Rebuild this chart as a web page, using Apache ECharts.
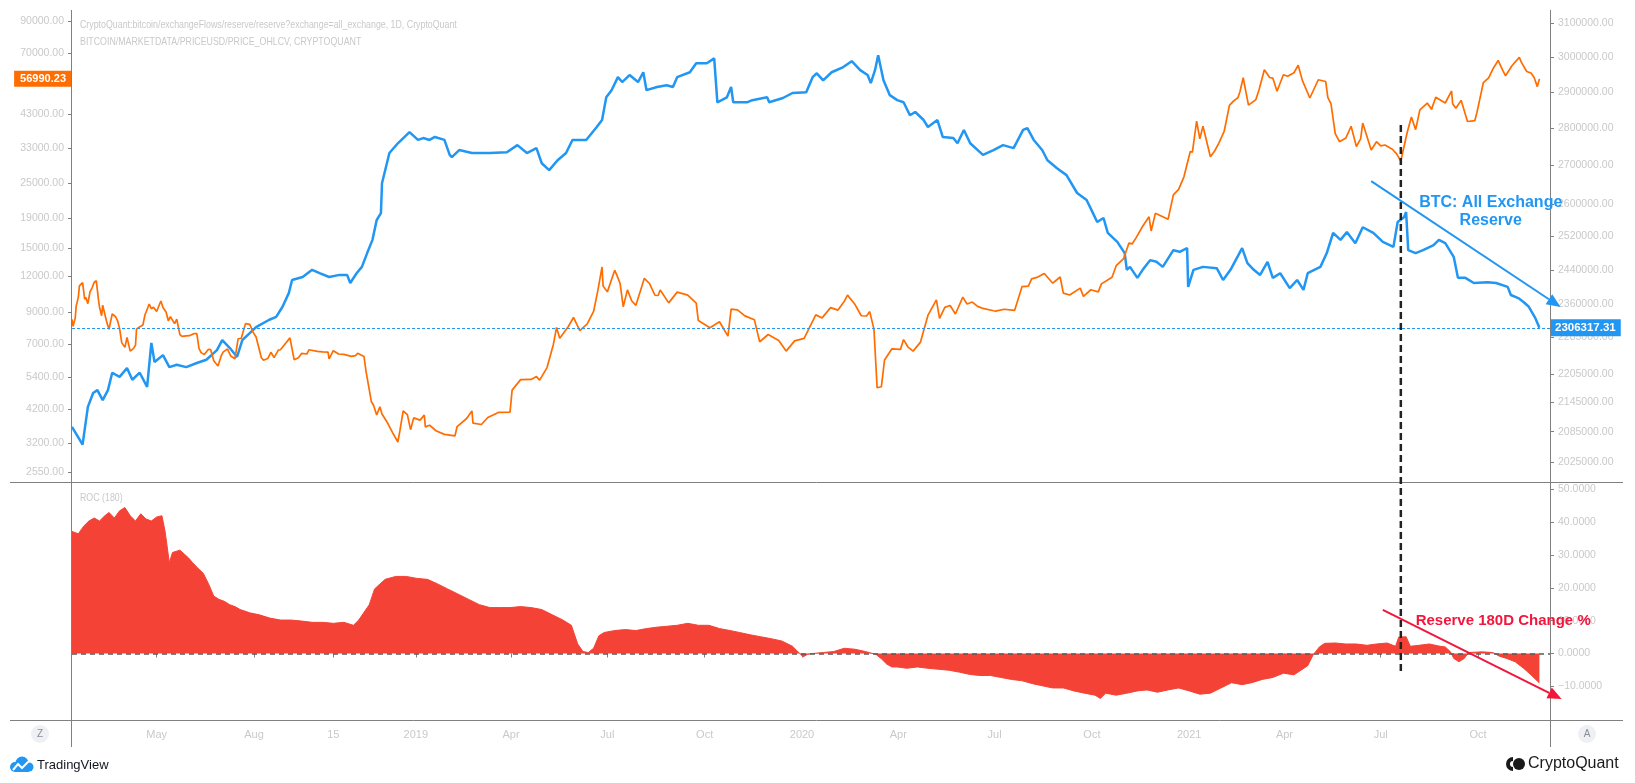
<!DOCTYPE html>
<html>
<head>
<meta charset="utf-8">
<title>BTC: All Exchange Reserve vs Price</title>
<script src="https://cdn.jsdelivr.net/npm/echarts@6.0.0/dist/echarts.min.js"></script>
<style>
  html, body { margin: 0; padding: 0; background: #fff; }
  #chart { width: 1635px; height: 783px; }
</style>
</head>
<body>
<div id="chart"></div>
<script>
// BTC price, USD daily close (left log axis)
const btcPrice = [
  ['2018-02-10', 8530], ['2018-02-11', 8080], ['2018-02-13', 8600], ['2018-02-14', 9490],
  ['2018-02-16', 10170], ['2018-02-17', 11110], ['2018-02-20', 11400], ['2018-02-22', 10000],
  ['2018-02-23', 10160], ['2018-02-25', 9660], ['2018-02-27', 10590], ['2018-03-01', 10950],
  ['2018-03-03', 11440], ['2018-03-05', 11570], ['2018-03-07', 9980], ['2018-03-08', 9400],
  ['2018-03-10', 8780], ['2018-03-11', 9550], ['2018-03-12', 9200], ['2018-03-15', 8300],
  ['2018-03-17', 7890], ['2018-03-18', 8220], ['2018-03-20', 8900], ['2018-03-23', 8730],
  ['2018-03-25', 8450], ['2018-03-27', 7930], ['2018-03-29', 7100], ['2018-04-01', 6840],
  ['2018-04-03', 7400], ['2018-04-06', 6640], ['2018-04-09', 6770], ['2018-04-11', 6950],
  ['2018-04-12', 7900], ['2018-04-14', 8000], ['2018-04-18', 8160], ['2018-04-20', 8850],
  ['2018-04-24', 9630], ['2018-04-26', 9280], ['2018-04-28', 9390], ['2018-05-01', 9080],
  ['2018-05-05', 9860], ['2018-05-07', 9370], ['2018-05-10', 9020], ['2018-05-12', 8440],
  ['2018-05-14', 8710], ['2018-05-18', 8250], ['2018-05-20', 8540], ['2018-05-23', 7560],
  ['2018-05-25', 7460], ['2018-05-29', 7490], ['2018-06-01', 7500], ['2018-06-05', 7620],
  ['2018-06-08', 7620], ['2018-06-10', 6780], ['2018-06-12', 6560], ['2018-06-15', 6460],
  ['2018-06-19', 6740], ['2018-06-21', 6720], ['2018-06-24', 6150], ['2018-06-28', 5900],
  ['2018-07-01', 6390], ['2018-07-03', 6600], ['2018-07-07', 6750], ['2018-07-10', 6390],
  ['2018-07-14', 6250], ['2018-07-17', 7320], ['2018-07-20', 7350], ['2018-07-24', 8250],
  ['2018-07-28', 8200], ['2018-07-31', 7730], ['2018-08-03', 7420], ['2018-08-08', 6300],
  ['2018-08-10', 6180], ['2018-08-14', 6260], ['2018-08-17', 6580], ['2018-08-20', 6310],
  ['2018-08-24', 6690], ['2018-08-26', 6710], ['2018-08-30', 7000], ['2018-09-04', 7370],
  ['2018-09-08', 6200], ['2018-09-12', 6300], ['2018-09-15', 6520], ['2018-09-20', 6490],
  ['2018-09-22', 6710], ['2018-09-30', 6630], ['2018-10-05', 6600], ['2018-10-10', 6590],
  ['2018-10-11', 6250], ['2018-10-15', 6660], ['2018-10-20', 6490], ['2018-10-25', 6470],
  ['2018-11-01', 6370], ['2018-11-05', 6410], ['2018-11-07', 6530], ['2018-11-13', 6360],
  ['2018-11-15', 5640], ['2018-11-20', 4450], ['2018-11-22', 4330], ['2018-11-25', 4010],
  ['2018-11-28', 4280], ['2018-11-30', 4040], ['2018-12-05', 3780], ['2018-12-10', 3490],
  ['2018-12-15', 3240], ['2018-12-17', 3550], ['2018-12-20', 4140], ['2018-12-24', 4020],
  ['2018-12-27', 3570], ['2018-12-30', 3920], ['2019-01-05', 3850], ['2019-01-09', 4010],
  ['2019-01-10', 3650], ['2019-01-14', 3700], ['2019-01-20', 3540], ['2019-01-28', 3440],
  ['2019-02-07', 3400], ['2019-02-09', 3660], ['2019-02-18', 3900], ['2019-02-23', 4140],
  ['2019-02-24', 3760], ['2019-03-04', 3720], ['2019-03-10', 3930], ['2019-03-20', 4090],
  ['2019-03-31', 4100], ['2019-04-02', 4880], ['2019-04-10', 5300], ['2019-04-20', 5310],
  ['2019-04-25', 5430], ['2019-04-28', 5280], ['2019-05-05', 5830], ['2019-05-11', 7000],
  ['2019-05-14', 8000], ['2019-05-17', 7350], ['2019-05-25', 8050], ['2019-05-30', 8660],
  ['2019-06-05', 7800], ['2019-06-12', 8230], ['2019-06-18', 9080], ['2019-06-22', 10700],
  ['2019-06-26', 12900], ['2019-06-27', 11100], ['2019-07-01', 10600], ['2019-07-08', 12570],
  ['2019-07-10', 12100], ['2019-07-13', 11350], ['2019-07-16', 9430], ['2019-07-20', 10770],
  ['2019-07-24', 9880], ['2019-07-28', 9530], ['2019-08-05', 11800], ['2019-08-10', 11300],
  ['2019-08-15', 10320], ['2019-08-18', 10300], ['2019-08-20', 10760], ['2019-08-28', 9720],
  ['2019-09-05', 10580], ['2019-09-15', 10330], ['2019-09-23', 9700], ['2019-09-25', 8450],
  ['2019-10-06', 7990], ['2019-10-15', 8370], ['2019-10-23', 7470], ['2019-10-26', 9250],
  ['2019-11-01', 9200], ['2019-11-08', 8770], ['2019-11-17', 8500], ['2019-11-22', 7150],
  ['2019-11-30', 7570], ['2019-12-10', 7220], ['2019-12-17', 6640], ['2019-12-25', 7200],
  ['2020-01-03', 7340], ['2020-01-14', 8840], ['2020-01-20', 8630], ['2020-01-28', 9360],
  ['2020-02-04', 9180], ['2020-02-10', 9850], ['2020-02-13', 10330], ['2020-02-20', 9610],
  ['2020-02-26', 8780], ['2020-03-02', 8760], ['2020-03-05', 9070], ['2020-03-09', 7900],
  ['2020-03-12', 4970], ['2020-03-16', 5010], ['2020-03-19', 6190], ['2020-03-26', 6760],
  ['2020-04-03', 6730], ['2020-04-06', 7270], ['2020-04-10', 6870], ['2020-04-15', 6640],
  ['2020-04-22', 7130], ['2020-04-29', 8800], ['2020-05-07', 9950], ['2020-05-10', 8600],
  ['2020-05-15', 9380], ['2020-05-20', 9520], ['2020-05-25', 8900], ['2020-06-01', 10170],
  ['2020-06-05', 9630], ['2020-06-10', 9780], ['2020-06-15', 9450], ['2020-06-20', 9300],
  ['2020-06-30', 9130], ['2020-07-02', 9100], ['2020-07-10', 9240], ['2020-07-20', 9160],
  ['2020-07-27', 11050], ['2020-08-02', 11100], ['2020-08-05', 11750], ['2020-08-10', 11880],
  ['2020-08-17', 12250], ['2020-08-25', 11350], ['2020-09-01', 11920], ['2020-09-04', 10500],
  ['2020-09-10', 10340], ['2020-09-20', 10920], ['2020-09-23', 10230], ['2020-09-30', 10780],
  ['2020-10-07', 10600], ['2020-10-10', 11290], ['2020-10-20', 11900], ['2020-10-24', 13030],
  ['2020-10-31', 13780], ['2020-11-05', 15600], ['2020-11-08', 15480], ['2020-11-12', 16300],
  ['2020-11-18', 17800], ['2020-11-24', 19170], ['2020-11-26', 17150], ['2020-11-30', 19710],
  ['2020-12-07', 19190], ['2020-12-12', 18800], ['2020-12-17', 22800], ['2020-12-22', 23800],
  ['2020-12-27', 26300], ['2021-01-02', 32100], ['2021-01-04', 31970], ['2021-01-08', 40800],
  ['2021-01-11', 35500], ['2021-01-14', 39200], ['2021-01-21', 30800], ['2021-01-25', 32250],
  ['2021-01-29', 34300], ['2021-02-03', 37620], ['2021-02-08', 46200], ['2021-02-12', 47900],
  ['2021-02-16', 49100], ['2021-02-18', 51600], ['2021-02-21', 57500], ['2021-02-26', 46300],
  ['2021-03-05', 48400], ['2021-03-08', 52300], ['2021-03-13', 61200], ['2021-03-18', 57600],
  ['2021-03-21', 57350], ['2021-03-25', 51700], ['2021-03-31', 58900], ['2021-04-04', 58200],
  ['2021-04-10', 59800], ['2021-04-14', 63500], ['2021-04-18', 56200], ['2021-04-25', 49000],
  ['2021-05-03', 56600], ['2021-05-10', 55800], ['2021-05-12', 49200], ['2021-05-15', 46760],
  ['2021-05-19', 37000], ['2021-05-23', 34700], ['2021-05-29', 35700], ['2021-06-03', 39200],
  ['2021-06-08', 33400], ['2021-06-12', 35480], ['2021-06-14', 40200], ['2021-06-22', 32500],
  ['2021-06-27', 34700], ['2021-07-01', 33570], ['2021-07-05', 33800], ['2021-07-12', 32700],
  ['2021-07-16', 31530], ['2021-07-20', 29800], ['2021-07-26', 37300], ['2021-07-30', 42200],
  ['2021-08-03', 38150], ['2021-08-07', 44600], ['2021-08-14', 47100], ['2021-08-18', 44800],
  ['2021-08-22', 49300], ['2021-08-31', 47100], ['2021-09-06', 51800], ['2021-09-07', 46800],
  ['2021-09-10', 45160], ['2021-09-15', 48100], ['2021-09-21', 40700], ['2021-09-28', 41000],
  ['2021-09-30', 43790], ['2021-10-06', 55300], ['2021-10-11', 57400], ['2021-10-15', 61600],
  ['2021-10-20', 65900], ['2021-10-24', 61300], ['2021-10-27', 58400], ['2021-11-02', 63200],
  ['2021-11-09', 67500], ['2021-11-11', 64900], ['2021-11-16', 60400], ['2021-11-20', 59700],
  ['2021-11-23', 57570], ['2021-11-26', 53600], ['2021-11-28', 56990.23]
];

// all exchange reserve, BTC (right log axis)
const exchangeReserve = [
  ['2018-02-10', 2095000], ['2018-02-20', 2059000], ['2018-02-25', 2136000], ['2018-03-02', 2165000],
  ['2018-03-06', 2171000], ['2018-03-11', 2150000], ['2018-03-16', 2171000], ['2018-03-20', 2208000],
  ['2018-03-27', 2199000], ['2018-04-03', 2218000], ['2018-04-08', 2193000], ['2018-04-15', 2208000],
  ['2018-04-22', 2178000], ['2018-04-26', 2273000], ['2018-04-29', 2231000], ['2018-05-07', 2246000],
  ['2018-05-13', 2220000], ['2018-05-20', 2225000], ['2018-05-29', 2220000], ['2018-06-08', 2229000],
  ['2018-06-17', 2236000], ['2018-06-27', 2257000], ['2018-07-02', 2279000], ['2018-07-09', 2262000],
  ['2018-07-16', 2242000], ['2018-07-21', 2279000], ['2018-08-03', 2308000], ['2018-08-15', 2324000],
  ['2018-08-22', 2331000], ['2018-08-28', 2354000], ['2018-09-03', 2386000], ['2018-09-06', 2416000],
  ['2018-09-16', 2423000], ['2018-09-25', 2440000], ['2018-10-02', 2432000], ['2018-10-11', 2423000],
  ['2018-10-21', 2428000], ['2018-10-28', 2428000], ['2018-10-31', 2409000], ['2018-11-06', 2432000],
  ['2018-11-11', 2447000], ['2018-11-16', 2480000], ['2018-11-21', 2512000], ['2018-11-25', 2561000],
  ['2018-11-29', 2578000], ['2018-11-30', 2654000], ['2018-12-07', 2733000], ['2018-12-15', 2759000],
  ['2018-12-26', 2789000], ['2019-01-03', 2768000], ['2019-01-08', 2773000], ['2019-01-14', 2768000],
  ['2019-01-19', 2776000], ['2019-01-28', 2768000], ['2019-02-02', 2728000], ['2019-02-04', 2722000],
  ['2019-02-11', 2741000], ['2019-02-23', 2733000], ['2019-03-12', 2733000], ['2019-03-28', 2735000],
  ['2019-04-07', 2754000], ['2019-04-16', 2733000], ['2019-04-25', 2746000], ['2019-04-30', 2706000],
  ['2019-05-07', 2688000], ['2019-05-15', 2714000], ['2019-05-23', 2733000], ['2019-05-29', 2768000],
  ['2019-06-11', 2768000], ['2019-06-21', 2803000], ['2019-06-26', 2822000], ['2019-06-30', 2885000],
  ['2019-07-05', 2905000], ['2019-07-11', 2942000], ['2019-07-15', 2928000], ['2019-07-22', 2948000],
  ['2019-07-30', 2928000], ['2019-08-04', 2956000], ['2019-08-07', 2905000], ['2019-08-17', 2914000],
  ['2019-08-26', 2919000], ['2019-09-01', 2914000], ['2019-09-05', 2942000], ['2019-09-17', 2956000],
  ['2019-09-23', 2982000], ['2019-10-03', 2982000], ['2019-10-10', 2996000], ['2019-10-13', 2871000],
  ['2019-10-22', 2885000], ['2019-10-26', 2914000], ['2019-10-28', 2871000], ['2019-11-10', 2871000],
  ['2019-11-15', 2877000], ['2019-11-29', 2885000], ['2019-12-01', 2871000], ['2019-12-14', 2883000],
  ['2019-12-23', 2897000], ['2020-01-05', 2899000], ['2020-01-11', 2942000], ['2020-01-15', 2953000],
  ['2020-01-21', 2933000], ['2020-01-29', 2956000], ['2020-02-09', 2971000], ['2020-02-17', 2988000],
  ['2020-02-25', 2962000], ['2020-03-03', 2948000], ['2020-03-06', 2925000], ['2020-03-10', 2962000],
  ['2020-03-13', 3005000], ['2020-03-18', 2933000], ['2020-03-24', 2891000], ['2020-03-31', 2877000],
  ['2020-04-06', 2871000], ['2020-04-12', 2835000], ['2020-04-17', 2844000], ['2020-04-25', 2822000],
  ['2020-04-29', 2803000], ['2020-05-08', 2822000], ['2020-05-13', 2776000], ['2020-05-23', 2773000],
  ['2020-05-27', 2759000], ['2020-06-02', 2795000], ['2020-06-08', 2759000], ['2020-06-20', 2728000],
  ['2020-06-30', 2741000], ['2020-07-09', 2754000], ['2020-07-19', 2746000], ['2020-07-28', 2795000],
  ['2020-08-01', 2800000], ['2020-08-07', 2768000], ['2020-08-15', 2741000], ['2020-08-20', 2714000],
  ['2020-08-29', 2693000], ['2020-09-07', 2675000], ['2020-09-17', 2629000], ['2020-09-26', 2611000],
  ['2020-10-02', 2578000], ['2020-10-06', 2556000], ['2020-10-12', 2566000], ['2020-10-16', 2529000],
  ['2020-10-25', 2507000], ['2020-11-01', 2480000], ['2020-11-03', 2440000], ['2020-11-06', 2447000],
  ['2020-11-13', 2421000], ['2020-11-18', 2440000], ['2020-11-25', 2463000], ['2020-12-01', 2459000],
  ['2020-12-07', 2447000], ['2020-12-17', 2487000], ['2020-12-23', 2483000], ['2020-12-30', 2492000],
  ['2020-12-31', 2400000], ['2021-01-05', 2440000], ['2021-01-14', 2447000], ['2021-01-27', 2444000],
  ['2021-02-02', 2416000], ['2021-02-09', 2440000], ['2021-02-20', 2492000], ['2021-02-25', 2456000],
  ['2021-03-03', 2440000], ['2021-03-09', 2428000], ['2021-03-16', 2459000], ['2021-03-21', 2421000],
  ['2021-03-28', 2432000], ['2021-04-06', 2397000], ['2021-04-13', 2416000], ['2021-04-19', 2393000],
  ['2021-04-23', 2432000], ['2021-05-05', 2447000], ['2021-05-11', 2480000], ['2021-05-17', 2529000],
  ['2021-05-24', 2512000], ['2021-05-30', 2531000], ['2021-06-07', 2504000], ['2021-06-14', 2543000],
  ['2021-06-24', 2529000], ['2021-07-03', 2507000], ['2021-07-13', 2495000], ['2021-07-17', 2556000],
  ['2021-07-23', 2568000], ['2021-07-25', 2581000], ['2021-07-27', 2487000], ['2021-08-03', 2480000],
  ['2021-08-10', 2487000], ['2021-08-20', 2499000], ['2021-08-25', 2512000], ['2021-08-31', 2504000],
  ['2021-09-08', 2471000], ['2021-09-12', 2421000], ['2021-09-19', 2421000], ['2021-09-27', 2409000],
  ['2021-10-10', 2411000], ['2021-10-18', 2409000], ['2021-10-29', 2400000], ['2021-11-01', 2381000],
  ['2021-11-08', 2374000], ['2021-11-13', 2365000], ['2021-11-18', 2354000], ['2021-11-24', 2329000],
  ['2021-11-28', 2306317.31]
];

// ROC(180) of the reserve, %
const reserveRoc = [
  ['2018-02-10', 37.2], ['2018-02-16', 36.5], ['2018-02-21', 38.8], ['2018-02-26', 40.4],
  ['2018-03-03', 41.3], ['2018-03-08', 40.4], ['2018-03-13', 42.0], ['2018-03-17', 43.0],
  ['2018-03-22', 41.3], ['2018-03-27', 43.5], ['2018-04-01', 44.5], ['2018-04-06', 42.0],
  ['2018-04-11', 40.4], ['2018-04-16', 42.6], ['2018-04-21', 41.0], ['2018-04-26', 40.4],
  ['2018-05-01', 41.6], ['2018-05-06', 42.0], ['2018-05-09', 37.2], ['2018-05-13', 27.7],
  ['2018-05-16', 30.8], ['2018-05-23', 31.5], ['2018-05-31', 29.2], ['2018-06-04', 27.7],
  ['2018-06-09', 26.0], ['2018-06-14', 24.5], ['2018-06-19', 21.3], ['2018-06-24', 17.5],
  ['2018-06-29', 16.5], ['2018-07-04', 15.9], ['2018-07-09', 14.9], ['2018-07-14', 14.3],
  ['2018-07-19', 13.4], ['2018-07-28', 12.4], ['2018-08-06', 11.8], ['2018-08-16', 10.8],
  ['2018-08-26', 10.2], ['2018-09-05', 10.2], ['2018-09-15', 9.9], ['2018-09-25', 9.5],
  ['2018-10-05', 9.5], ['2018-10-15', 9.2], ['2018-10-25', 9.5], ['2018-11-03', 8.6],
  ['2018-11-08', 10.2], ['2018-11-18', 14.9], ['2018-11-23', 19.7], ['2018-12-03', 22.6],
  ['2018-12-13', 23.5], ['2018-12-23', 23.5], ['2019-01-02', 22.9], ['2019-01-12', 22.6],
  ['2019-01-21', 21.3], ['2019-01-31', 19.7], ['2019-02-10', 18.1], ['2019-02-20', 16.5],
  ['2019-03-02', 14.9], ['2019-03-12', 14.0], ['2019-03-21', 14.0], ['2019-03-31', 14.0],
  ['2019-04-10', 14.3], ['2019-04-20', 14.0], ['2019-04-30', 13.4], ['2019-05-10', 11.8],
  ['2019-05-20', 10.2], ['2019-05-28', 8.6], ['2019-06-03', 2.9], ['2019-06-08', 0.6],
  ['2019-06-13', 0.3], ['2019-06-18', 1.6], ['2019-06-23', 5.4], ['2019-06-28', 6.4],
  ['2019-07-08', 7.0], ['2019-07-18', 7.3], ['2019-07-28', 7.0], ['2019-08-07', 7.6],
  ['2019-08-16', 8.0], ['2019-08-26', 8.3], ['2019-09-05', 8.6], ['2019-09-15', 9.2],
  ['2019-09-25', 8.6], ['2019-10-05', 8.6], ['2019-10-15', 7.6], ['2019-10-25', 7.0],
  ['2019-11-03', 6.4], ['2019-11-13', 5.7], ['2019-11-23', 5.1], ['2019-12-03', 4.5],
  ['2019-12-13', 3.8], ['2019-12-23', 2.2], ['2019-12-28', 0.6], ['2020-01-02', -1.0],
  ['2020-01-06', -0.3], ['2020-01-11', 0.0], ['2020-01-21', 0.3], ['2020-01-31', 0.6],
  ['2020-02-10', 1.6], ['2020-02-20', 1.3], ['2020-03-01', 0.6], ['2020-03-11', -0.3],
  ['2020-03-16', -1.6], ['2020-03-21', -3.2], ['2020-03-26', -4.1], ['2020-03-31', -4.1],
  ['2020-04-09', -4.5], ['2020-04-19', -4.1], ['2020-04-29', -4.5], ['2020-05-09', -4.8],
  ['2020-05-19', -5.1], ['2020-05-29', -5.7], ['2020-06-08', -6.4], ['2020-06-17', -6.7],
  ['2020-06-27', -6.7], ['2020-07-07', -7.3], ['2020-07-17', -7.9], ['2020-07-27', -8.3],
  ['2020-08-06', -9.2], ['2020-08-16', -9.9], ['2020-08-25', -10.5], ['2020-09-04', -10.5],
  ['2020-09-14', -11.4], ['2020-09-24', -12.1], ['2020-10-04', -12.7], ['2020-10-09', -13.7],
  ['2020-10-14', -12.1], ['2020-10-24', -12.7], ['2020-11-03', -12.1], ['2020-11-13', -11.4],
  ['2020-11-22', -11.1], ['2020-12-02', -11.8], ['2020-12-12', -11.1], ['2020-12-22', -10.5],
  ['2021-01-01', -11.4], ['2021-01-11', -12.4], ['2021-01-21', -12.1], ['2021-01-31', -10.5],
  ['2021-02-10', -8.9], ['2021-02-20', -9.5], ['2021-03-01', -8.9], ['2021-03-11', -7.9],
  ['2021-03-21', -7.3], ['2021-03-31', -6.0], ['2021-04-10', -6.5], ['2021-04-17', -5.0],
  ['2021-04-23', -3.7], ['2021-04-28', -0.5], ['2021-05-04', 2.0], ['2021-05-09', 3.1],
  ['2021-05-19', 3.2], ['2021-05-29', 2.9], ['2021-06-08', 2.9], ['2021-06-18', 2.5],
  ['2021-06-27', 2.9], ['2021-07-07', 3.2], ['2021-07-15', 2.2], ['2021-07-18', 5.0],
  ['2021-07-25', 5.1], ['2021-07-29', 2.2], ['2021-08-06', 2.5], ['2021-08-16', 2.9],
  ['2021-08-26', 2.2], ['2021-08-31', 2.0], ['2021-09-05', 0.5], ['2021-09-08', -1.5],
  ['2021-09-13', -2.5], ['2021-09-18', -1.5], ['2021-09-22', 0.3], ['2021-10-05', 0.5],
  ['2021-10-15', 0.3], ['2021-10-21', -0.8], ['2021-10-28', -1.5], ['2021-11-05', -2.5],
  ['2021-11-13', -4.5], ['2021-11-20', -6.5], ['2021-11-28', -9.0]
];

// axis ticks as printed on the chart
const timeTicks = ['2018-05-01', '2018-08-01', '2018-10-15', '2019-01-01', '2019-04-01', '2019-07-01',
  '2019-10-01', '2020-01-01', '2020-04-01', '2020-07-01', '2020-10-01', '2021-01-01', '2021-04-01',
  '2021-07-01', '2021-10-01'];
const timeTickLabels = ['May', 'Aug', '15', '2019', 'Apr', 'Jul', 'Oct', '2020', 'Apr', 'Jul', 'Oct',
  '2021', 'Apr', 'Jul', 'Oct'];
const priceTicks = [90000, 70000, 43000, 33000, 25000, 19000, 15000, 12000, 9000, 7000, 5400, 4200, 3200, 2550];
const reserveTicks = [3100000, 3000000, 2900000, 2800000, 2700000, 2600000, 2520000, 2440000, 2360000,
  2285000, 2205000, 2145000, 2085000, 2025000];
const rocTicks = [50, 40, 30, 20, 10, 0, -10];

// axis ranges
const X_MIN = '2018-02-10', X_MAX = '2021-12-08';
const PRICE_MIN = 2362, PRICE_MAX = 98170;
const RESERVE_MIN = 1985700, RESERVE_MAX = 3140200;
const ROC_MIN = -20.27, ROC_MAX = 51.98;

// annotations drawn on the chart (in data units)
const markerDate = '2021-07-20';
const blueTrend = [['2021-06-22', 2659500], ['2021-12-18', 2353400]];
const redTrend = [['2021-07-03', 13.3], ['2021-12-19', -13.9]];

// layout
const W = 1635, H = 783;
const LEFT = 72, RIGHT = 1550;
const TOP1 = 10, BOT1 = 482, BOT2 = 720;

const FONT = '"Liberation Sans", Arial, sans-serif';
const TEXT_GREY = '#c9c9c9';
const LINE_GREY = '#808080';
const ORANGE = '#ff6d00';
const BLUE = '#2196f3';
const RED_FILL = '#f44336';
const RED_NOTE = '#f2163c';

// dates become epoch ms on a plain value axis
const toTime = d => new Date(d + 'T00:00:00').getTime();
const toPoints = rows => rows.map(r => [toTime(r[0]), r[1]]);
const tickTimes = timeTicks.map(toTime);
const lastPrice = btcPrice[btcPrice.length - 1][1];
const lastReserve = exchangeReserve[exchangeReserve.length - 1][1];

function fmtRoc(v) {
  return v < 0 ? '\u2212' + Math.abs(v).toFixed(4) : v.toFixed(4);
}

const chart = echarts.init(document.getElementById('chart'), null, { renderer: 'canvas' });

const axisLabelBase = { color: TEXT_GREY, fontSize: 10.5, fontFamily: FONT, margin: 8 };
const tickBase = { show: true, length: 4, lineStyle: { color: LINE_GREY } };

const option = {
  animation: false,
  backgroundColor: '#ffffff',
  grid: [
    { left: LEFT, right: W - RIGHT, top: TOP1, height: BOT1 - TOP1, outerBoundsMode: 'none' },
    { left: LEFT, right: W - RIGHT, top: BOT1 + 1, height: BOT2 - BOT1 - 1, outerBoundsMode: 'none' }
  ],
  xAxis: [
    { type: 'value', gridIndex: 0, min: toTime(X_MIN), max: toTime(X_MAX), show: false },
    {
      type: 'value', gridIndex: 1, min: toTime(X_MIN), max: toTime(X_MAX),
      axisLine: { show: false },
      splitLine: { show: false },
      axisTick: Object.assign({ customValues: tickTimes }, tickBase),
      axisLabel: Object.assign({}, axisLabelBase, {
        fontSize: 11, margin: 9,
        customValues: tickTimes,
        formatter: v => {
          const i = tickTimes.findIndex(t => Math.abs(t - v) < 43200000);
          return i < 0 ? '' : timeTickLabels[i];
        }
      })
    }
  ],
  yAxis: [
    {
      type: 'log', logBase: 10, gridIndex: 0, position: 'left',
      min: PRICE_MIN, max: PRICE_MAX,
      axisLine: { show: false }, splitLine: { show: false },
      axisTick: Object.assign({ customValues: priceTicks }, tickBase),
      axisLabel: Object.assign({}, axisLabelBase, { customValues: priceTicks, formatter: v => v.toFixed(2) })
    },
    {
      type: 'log', logBase: 10, gridIndex: 0, position: 'right',
      min: RESERVE_MIN, max: RESERVE_MAX,
      axisLine: { show: false }, splitLine: { show: false },
      axisTick: Object.assign({ customValues: reserveTicks }, tickBase),
      axisLabel: Object.assign({}, axisLabelBase, { customValues: reserveTicks, formatter: v => v.toFixed(2) })
    },
    {
      type: 'value', gridIndex: 1, position: 'right',
      min: ROC_MIN, max: ROC_MAX,
      axisLine: { show: false }, splitLine: { show: false },
      axisTick: Object.assign({ customValues: rocTicks }, tickBase),
      axisLabel: Object.assign({}, axisLabelBase, { customValues: rocTicks, formatter: fmtRoc })
    }
  ],
  series: [
    {
      name: 'Exchange Reserve',
      type: 'line',
      xAxisIndex: 0, yAxisIndex: 1,
      data: toPoints(exchangeReserve),
      symbol: 'none',
      lineStyle: { color: BLUE, width: 2.5 },
      itemStyle: { color: BLUE },
      z: 2,
      markLine: {
        silent: true,
        symbol: ['none', 'none'],
        data: [{ yAxis: lastReserve }],
        lineStyle: { color: BLUE, width: 1, type: [3, 2] },
        label: {
          show: true, position: 'end', distance: 0,
          formatter: p => Number(p.value).toFixed(2),
          backgroundColor: BLUE, color: '#fff',
          fontSize: 11.5, fontWeight: 'bold', fontFamily: FONT,
          padding: [3, 5, 2, 5]
        }
      }
    },
    {
      name: 'BTC Price',
      type: 'line',
      xAxisIndex: 0, yAxisIndex: 0,
      data: toPoints(btcPrice),
      symbol: 'none',
      lineStyle: { color: ORANGE, width: 1.7 },
      itemStyle: { color: ORANGE },
      z: 3,
      markLine: {
        silent: true,
        symbol: ['none', 'none'],
        data: [{ yAxis: lastPrice }],
        lineStyle: { color: 'rgba(0,0,0,0)', width: 0 },
        label: {
          show: true, position: 'start', distance: 0,
          formatter: p => Number(p.value).toFixed(2),
          backgroundColor: ORANGE, color: '#fff',
          fontSize: 11, fontWeight: 'bold', fontFamily: FONT,
          padding: [3, 6, 2, 6]
        }
      }
    },
    {
      name: 'ROC (180)',
      type: 'line',
      xAxisIndex: 1, yAxisIndex: 2,
      data: toPoints(reserveRoc),
      symbol: 'none',
      lineStyle: { color: RED_FILL, width: 1 },
      itemStyle: { color: RED_FILL },
      areaStyle: { color: RED_FILL, opacity: 1 },
      markLine: {
        silent: true,
        symbol: ['none', 'none'],
        data: [{ yAxis: 0 }],
        lineStyle: { color: '#5a5a5a', width: 1.5, type: [5, 4] },
        label: { show: false }
      }
    }
  ]
};

chart.setOption(option);

// annotation layer: legend lines, frame, trend arrows, notes, logos
const topLeft = { xAxisIndex: 0, yAxisIndex: 0 };
const topRight = { xAxisIndex: 0, yAxisIndex: 1 };
const bottomPane = { xAxisIndex: 1, yAxisIndex: 2 };
const at = (finder, d, v) => chart.convertToPixel(finder, [toTime(d), v]);

function arrow(p0, p1, color) {
  const ang = Math.atan2(p1[1] - p0[1], p1[0] - p0[0]);
  const len = 14, half = 6;
  const bx = p1[0] - len * Math.cos(ang), by = p1[1] - len * Math.sin(ang);
  const nx = -Math.sin(ang) * half, ny = Math.cos(ang) * half;
  return [
    { type: 'line', z: 100, shape: { x1: p0[0], y1: p0[1], x2: bx, y2: by }, style: { stroke: color, lineWidth: 2 } },
    { type: 'polygon', z: 100, shape: { points: [p1, [bx + nx, by + ny], [bx - nx, by - ny]] }, style: { fill: color } }
  ];
}

function hline(y, x1, x2) {
  return { type: 'line', z: 90, shape: { x1: x1, y1: y, x2: x2, y2: y }, style: { stroke: LINE_GREY, lineWidth: 1 } };
}
function vline(x, y1, y2) {
  return { type: 'line', z: 90, shape: { x1: x, y1: y1, x2: x, y2: y2 }, style: { stroke: LINE_GREY, lineWidth: 1 } };
}
function label(text, x, y, color, font, align) {
  return {
    type: 'text', z: 101,
    style: {
      text: text, x: x, y: y, fill: color, font: font, lineHeight: 18,
      align: align, verticalAlign: 'middle', textAlign: align, textVerticalAlign: 'middle'
    }
  };
}
// pane legends use a horizontally condensed face
function legendLine(text, x, y) {
  return {
    type: 'text', z: 101, x: x, y: y, scaleX: 0.84,
    style: {
      text: text, x: 0, y: 0, fill: TEXT_GREY, font: '10.5px ' + FONT,
      align: 'left', verticalAlign: 'middle', textAlign: 'left', textVerticalAlign: 'middle'
    }
  };
}

const dashTop = at(topLeft, markerDate, 39600);
const dashBottom = at(bottomPane, markerDate, -5.5);
const bA = at(topRight, blueTrend[0][0], blueTrend[0][1]);
const bB = at(topRight, blueTrend[1][0], blueTrend[1][1]);
const rA = at(bottomPane, redTrend[0][0], redTrend[0][1]);
const rB = at(bottomPane, redTrend[1][0], redTrend[1][1]);
const blueNote = at(topRight, '2021-10-13', 2583000);
const redNote = at(bottomPane, '2021-08-03', 9.9);

const graphics = [
  legendLine('CryptoQuant:bitcoin/exchangeFlows/reserve/reserve?exchange=all_exchange, 1D, CryptoQuant', 80, 25),
  legendLine('BITCOIN/MARKETDATA/PRICEUSD/PRICE_OHLCV, CRYPTOQUANT', 80, 42),
  legendLine('ROC (180)', 80, 498),
  // TradingView-style frame
  vline(LEFT - 0.5, TOP1, 747),
  vline(RIGHT + 0.5, TOP1, 747),
  hline(BOT1 + 0.5, 10, 1623),
  hline(BOT2 + 0.5, 10, 1623),
  // vertical marker
  {
    type: 'line', z: 100,
    shape: { x1: dashTop[0], y1: dashTop[1], x2: dashBottom[0], y2: dashBottom[1] },
    style: { stroke: '#222', lineWidth: 2.5, lineDash: [7, 4] }
  },
  ...arrow(bA, bB, BLUE),
  ...arrow(rA, rB, RED_NOTE),
  label('BTC: All Exchange\nReserve', blueNote[0], blueNote[1], BLUE, 'bold 16px ' + FONT, 'center'),
  label('Reserve 180D Change %', redNote[0], redNote[1], RED_NOTE, 'bold 15px ' + FONT, 'left'),
  // scale buttons
  { type: 'circle', z: 95, shape: { cx: 40, cy: 734, r: 9 }, style: { fill: '#eef0f3' } },
  label('Z', 40, 734, '#8a8d96', '10px ' + FONT, 'center'),
  { type: 'circle', z: 95, shape: { cx: 1587, cy: 734, r: 9 }, style: { fill: '#eef0f3' } },
  label('A', 1587, 734, '#8a8d96', '10px ' + FONT, 'center'),
  // TradingView logo
  { type: 'circle', z: 95, shape: { cx: 15, cy: 767, r: 5 }, style: { fill: BLUE } },
  { type: 'circle', z: 95, shape: { cx: 22, cy: 763, r: 6.5 }, style: { fill: BLUE } },
  { type: 'circle', z: 95, shape: { cx: 29, cy: 767, r: 4.5 }, style: { fill: BLUE } },
  { type: 'rect', z: 95, shape: { x: 15, y: 765, width: 14, height: 7 }, style: { fill: BLUE } },
  {
    type: 'polyline', z: 96,
    shape: { points: [[13, 770], [18, 764], [22, 768], [29, 761]] },
    style: { stroke: '#fff', lineWidth: 2, fill: null }
  },
  label('TradingView', 37, 765, '#131722', '13px ' + FONT, 'left'),
  // CryptoQuant logo
  {
    type: 'sector', z: 95,
    shape: { cx: 1513, cy: 764, r0: 3, r: 7, startAngle: Math.PI / 2, endAngle: Math.PI * 1.5 },
    style: { fill: '#1a1a1a' }
  },
  { type: 'circle', z: 95, shape: { cx: 1519, cy: 764, r: 6 }, style: { fill: '#1a1a1a' } },
  label('CryptoQuant', 1528, 764, '#1a1a1a', '16px ' + FONT, 'left')
];

chart.setOption({ graphic: { elements: graphics } });
</script>
</body>
</html>
